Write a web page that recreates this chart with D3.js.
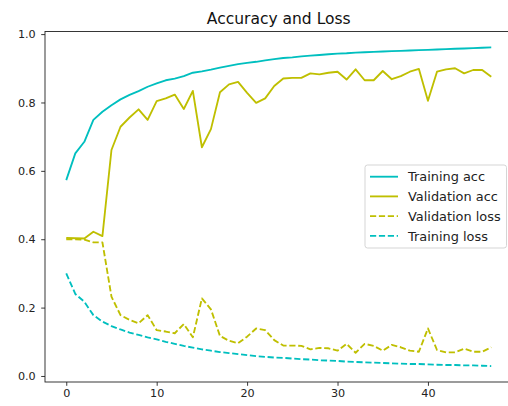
<!DOCTYPE html>
<html>
<head>
<meta charset="utf-8">
<script src="https://cdn.jsdelivr.net/npm/d3@7"></script>
<style>
  html, body { margin: 0; padding: 0; background: #fff; }
  svg { display: block; font-family: "DejaVu Sans", sans-serif; }
</style>
</head>
<body>
<svg id="chart" width="508" height="406"></svg>
<script>
const epochs = d3.range(0, 48);

const trainingAcc = [0.573, 0.651, 0.685, 0.749, 0.773, 0.792, 0.809, 0.822, 0.833, 0.846,
  0.856, 0.865, 0.870, 0.877, 0.887, 0.891, 0.896, 0.902, 0.907, 0.912,
  0.916, 0.919, 0.923, 0.927, 0.930, 0.932, 0.935, 0.937, 0.939, 0.941,
  0.943, 0.944, 0.946, 0.947, 0.948, 0.949, 0.950, 0.951, 0.952, 0.953,
  0.954, 0.955, 0.956, 0.957, 0.958, 0.959, 0.960, 0.961];

const validationAcc = [0.404, 0.403, 0.402, 0.422, 0.409, 0.661, 0.729, 0.756, 0.780, 0.749,
  0.804, 0.812, 0.823, 0.781, 0.834, 0.669, 0.722, 0.830, 0.853, 0.860,
  0.828, 0.799, 0.812, 0.848, 0.870, 0.872, 0.872, 0.885, 0.882, 0.887,
  0.890, 0.867, 0.897, 0.865, 0.865, 0.892, 0.868, 0.877, 0.890, 0.898,
  0.805, 0.890, 0.897, 0.900, 0.885, 0.895, 0.895, 0.875];

const validationLoss = [0.400, 0.400, 0.399, 0.391, 0.391, 0.232, 0.178, 0.164, 0.154, 0.178,
  0.134, 0.130, 0.125, 0.152, 0.113, 0.227, 0.195, 0.117, 0.103, 0.096,
  0.115, 0.139, 0.134, 0.105, 0.089, 0.089, 0.088, 0.078, 0.082, 0.081,
  0.074, 0.094, 0.068, 0.094, 0.088, 0.074, 0.091, 0.084, 0.074, 0.071,
  0.139, 0.076, 0.069, 0.069, 0.080, 0.071, 0.071, 0.084];

const trainingLoss = [0.300, 0.240, 0.217, 0.178, 0.159, 0.146, 0.136, 0.127, 0.120, 0.113,
  0.107, 0.100, 0.094, 0.088, 0.083, 0.078, 0.074, 0.070, 0.067, 0.064,
  0.061, 0.058, 0.056, 0.054, 0.053, 0.051, 0.049, 0.048, 0.046, 0.045,
  0.044, 0.042, 0.041, 0.040, 0.039, 0.038, 0.037, 0.036, 0.035, 0.035,
  0.034, 0.033, 0.032, 0.032, 0.031, 0.031, 0.030, 0.029];

const seriesNames = ["Training acc", "Validation acc", "Validation loss", "Training loss"];
const xTickValues = [0, 10, 20, 30, 40];
const yTickValues = [0.0, 0.2, 0.4, 0.6, 0.8, 1.0];
const titleText = "Accuracy and Loss";

const CYAN = "#00bfbf", OLIVE = "#bfbf00";
const series = [
  { name: seriesNames[0], values: trainingAcc, color: CYAN, dash: null },
  { name: seriesNames[1], values: validationAcc, color: OLIVE, dash: null },
  { name: seriesNames[2], values: validationLoss, color: OLIVE, dash: "6.2,2.7" },
  { name: seriesNames[3], values: trainingLoss, color: CYAN, dash: "6.2,2.7" }
];

const svg = d3.select("#chart");
const L = 45, R = 512.5, T = 31.5, B = 382;

// matplotlib-like 5% margins
const xMin = d3.min(epochs), xMax = d3.max(epochs);
const xPad = (xMax - xMin) * 0.05;
const allY = [].concat(trainingAcc, validationAcc, validationLoss, trainingLoss);
const yMin = d3.min(allY), yMax = d3.max(allY);
const yPad = (yMax - yMin) * 0.05;

const x = d3.scaleLinear().domain([xMin - xPad, xMax + xPad]).range([L, R]);
const y = d3.scaleLinear().domain([yMin - yPad, yMax + yPad]).range([B, T]);

svg.append("clipPath").attr("id", "clip")
  .append("rect").attr("x", L).attr("y", T).attr("width", R - L).attr("height", B - T);

const line = d3.line().x((d, i) => x(epochs[i])).y(d => y(d));

const plot = svg.append("g").attr("clip-path", "url(#clip)");
series.forEach(s => {
  plot.append("path")
    .datum(s.values)
    .attr("d", line)
    .attr("fill", "none")
    .attr("stroke", s.color)
    .attr("stroke-width", 1.85)
    .attr("stroke-linejoin", "round")
    .attr("stroke-dasharray", s.dash);
});

// Axes
const tickColor = "#222";
const xAxis = d3.axisBottom(x).tickValues(xTickValues).tickFormat(d3.format("d"))
  .tickSizeInner(3.8).tickSizeOuter(0).tickPadding(3.5);
const yAxis = d3.axisLeft(y).tickValues(yTickValues).tickFormat(d3.format(".1f"))
  .tickSizeInner(3.8).tickSizeOuter(0).tickPadding(5.5);

const gx = svg.append("g").attr("transform", `translate(0,${B})`).call(xAxis);
const gy = svg.append("g").attr("transform", `translate(${L},0)`).call(yAxis);
[gx, gy].forEach(g => {
  g.select(".domain").remove();
  g.selectAll(".tick line").attr("stroke", tickColor).attr("stroke-width", 0.9);
  g.selectAll(".tick text").attr("fill", "#222").style("font-size", "11.2px")
    .style("font-family", "'DejaVu Sans', sans-serif");
});

// Frame (spines)
svg.append("rect").attr("x", L).attr("y", T).attr("width", R - L).attr("height", B - T)
  .attr("fill", "none").attr("stroke", "#222").attr("stroke-width", 0.9);

// Title
svg.append("text").attr("x", (L + R) / 2).attr("y", 24)
  .attr("text-anchor", "middle").attr("fill", "#111")
  .style("font-size", "15.5px").text(titleText);

// Legend
const lg = svg.append("g");
const lgX = 365, lgY = 165, lgW = 141.5, lgH = 83;
lg.append("rect").attr("x", lgX).attr("y", lgY).attr("width", lgW).attr("height", lgH)
  .attr("rx", 2.5).attr("fill", "#fff").attr("fill-opacity", 0.8)
  .attr("stroke", "#d0d0d0").attr("stroke-width", 0.9);
series.forEach((s, i) => {
  const cy = 176.7 + i * 19.7;
  lg.append("line").attr("x1", 370).attr("x2", 398).attr("y1", cy).attr("y2", cy)
    .attr("stroke", s.color).attr("stroke-width", 1.85).attr("stroke-dasharray", s.dash);
  lg.append("text").attr("x", 408).attr("y", cy + 4.7)
    .attr("fill", "#222").style("font-size", "12.9px").text(s.name);
});
</script>
</body>
</html>
